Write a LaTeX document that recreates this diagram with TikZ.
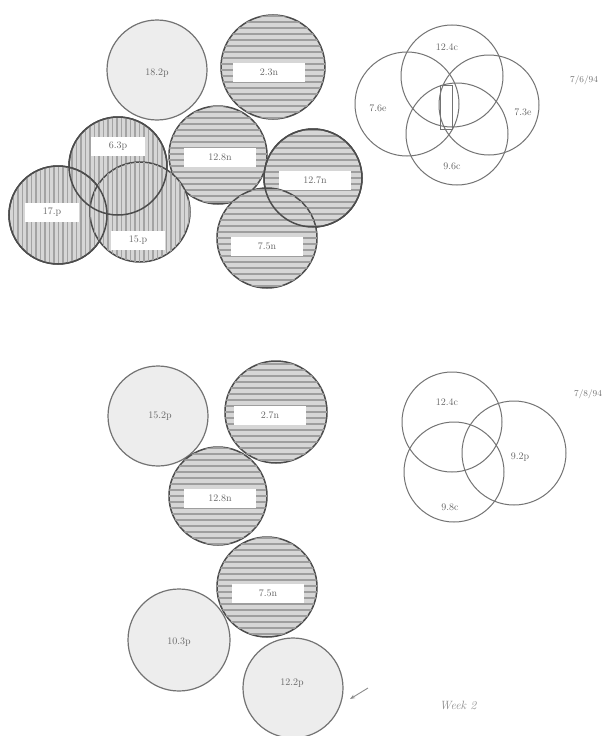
\documentclass[tikz,border=0pt]{standalone}
\usetikzlibrary{patterns.meta,arrows.meta}
\begin{document}
\begin{tikzpicture}[x=1pt,y=-1pt,
  ncirc/.style={circle,inner sep=0pt,draw=black!70,line width=1.5pt,fill=black!16,
     postaction={pattern={Lines[angle=0,distance=6pt,line width=1.6pt]},pattern color=black!38}},
  vcirc/.style={circle,inner sep=0pt,draw=black!70,line width=1.5pt,fill=black!16,
     postaction={pattern={Lines[angle=90,distance=4.5pt,line width=1.2pt]},pattern color=black!36}},
  lcirc/.style={circle,inner sep=0pt,draw=black!55,line width=1.2pt,fill=black!7},
  ring/.style={circle,inner sep=0pt,draw=black!55,line width=1pt},
  nlab/.style={fill=white,font=\normalsize,text=black!60,minimum width=72pt,minimum height=19pt,inner sep=1pt},
  plab/.style={fill=white,font=\normalsize,text=black!60,minimum width=54pt,minimum height=19pt,inner sep=1pt},
  tlab/.style={font=\normalsize,text=black!60,inner sep=1pt},
  dlab/.style={font=\small,text=black!55,inner sep=1pt}]
\useasboundingbox[fill=white] (0,0) rectangle (608,736);

% ---------- top cluster ----------
\node[lcirc,minimum size=100pt] (a1) at (157,70) {};
\node[tlab] (a1l) at (157,73) {18.2p};
\node[ncirc,minimum size=104pt] (a2) at (273,67) {};
\node[nlab] (a2l) at (269,72) {2.3n};
\node[ncirc,minimum size=98pt] (a3) at (218,155) {};
\node[nlab] (a3l) at (220,157) {12.8n};
\node[ncirc,minimum size=98pt] (a4) at (313,178) {};
\node[nlab] (a4l) at (315,180) {12.7n};
\node[ncirc,minimum size=100pt] (a5) at (267,238) {};
\node[nlab] (a5l) at (267,246) {7.5n};
\draw[black!70,line width=1.5pt] (a4) circle (49pt);
\node[vcirc,minimum size=98pt] (a6) at (118,166) {};
\node[vcirc,minimum size=98pt] (a7) at (58,215) {};
\node[vcirc,minimum size=100pt] (a8) at (140,212) {};
\draw[black!70,line width=1.5pt] (a6) circle (49pt);
\draw[black!70,line width=1.5pt] (a7) circle (49pt);
\node[plab] (a6l) at (118,146) {6.3p};
\node[plab] (a7l) at (52,212) {17.p};
\node[plab] (a8l) at (138,240) {15.p};

% ---------- top Venn ----------
\node[ring,minimum size=102pt] (v1) at (452,76) {};
\node[ring,minimum size=104pt] (v2) at (407,104) {};
\node[ring,minimum size=100pt] (v3) at (489,105) {};
\node[ring,minimum size=102pt] (v4) at (457,134) {};
\node[draw=black!55,line width=1pt,minimum width=12pt,minimum height=44pt,inner sep=0pt] (v5) at (446,107) {};
\node[tlab] (v1l) at (447,47) {12.4c};
\node[tlab] (v2l) at (378,108) {7.6e};
\node[tlab] (v3l) at (523,112) {7.3e};
\node[tlab] (v4l) at (452,166) {9.6c};
\node[dlab] (d1) at (584,80) {7/6/94};

% ---------- bottom cluster ----------
\node[lcirc,minimum size=100pt] (b1) at (158,416) {};
\node[tlab] (b1l) at (160,416) {15.2p};
\node[ncirc,minimum size=102pt] (b2) at (276,412) {};
\node[nlab] (b2l) at (270,415) {2.7n};
\node[ncirc,minimum size=98pt] (b3) at (218,496) {};
\node[nlab] (b3l) at (220,498) {12.8n};
\node[ncirc,minimum size=100pt] (b4) at (267,587) {};
\node[nlab] (b4l) at (268,593) {7.5n};
\node[lcirc,minimum size=102pt] (b5) at (179,640) {};
\node[tlab] (b5l) at (179,642) {10.3p};
\node[lcirc,minimum size=100pt] (b6) at (293,688) {};
\node[tlab] (b6l) at (292,683) {12.2p};

% ---------- bottom Venn ----------
\node[ring,minimum size=100pt] (w1) at (452,422) {};
\node[ring,minimum size=100pt] (w2) at (454,472) {};
\node[ring,minimum size=104pt] (w3) at (514,453) {};
\node[tlab] (w1l) at (447,402) {12.4c};
\node[tlab] (w3l) at (520,457) {9.2p};
\node[tlab] (w2l) at (450,507) {9.8c};
\node[dlab] (d2) at (588,394) {7/8/94};

% ---------- note ----------
\node[font=\large\itshape,text=black!45,inner sep=1pt] (wk) at (458,705) {Week 2};
\coordinate (m1) at (368,688);
\coordinate (m2) at (350,699);
\draw[black!45,line width=0.9pt,-{Stealth[length=5pt]}] (m1) -- (m2);
\end{tikzpicture}
\end{document}
